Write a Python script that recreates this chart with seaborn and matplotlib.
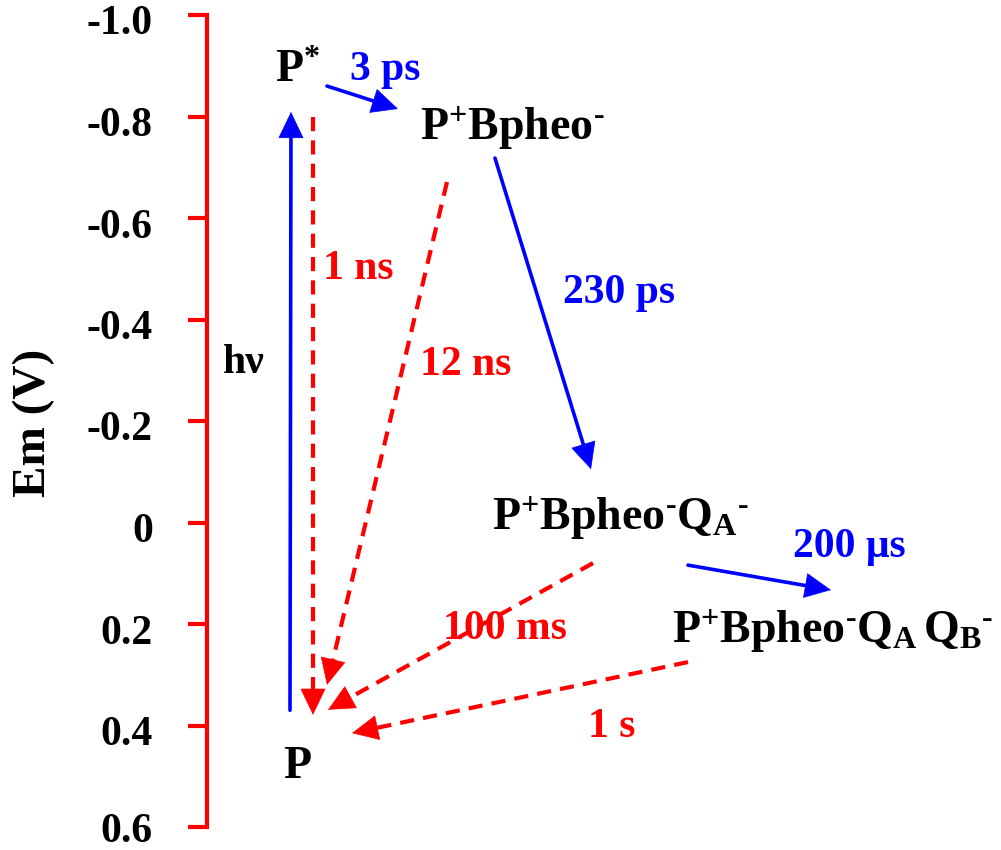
import numpy as np
import pandas as pd
import matplotlib
matplotlib.use("Agg")
import matplotlib.pyplot as plt
import matplotlib.transforms as mtransforms
import seaborn as sns

# ---------------- data ----------------
em_ticks = [-1.0, -0.8, -0.6, -0.4, -0.2, 0.0, 0.2, 0.4, 0.6]
em_tick_labels = ["-1.0", "-0.8", "-0.6", "-0.4", "-0.2", "0", "0.2", "0.4", "0.6"]

HY = "\u2010"
state_labels = [
    r"$\mathbf{P^{*}}$",
    r"$\mathbf{P^{+}Bpheo^{" + HY + r"}}$",
    r"$\mathbf{P^{+}Bpheo^{" + HY + r"}Q_{A}{}^{" + HY + r"}}$",
    r"$\mathbf{P^{+}Bpheo^{" + HY + r"}Q_{A}\,Q_{B}{}^{" + HY + r"}}$",
    r"$\mathbf{P}$",
]
state_x = [275, 420, 492, 672, 283]
state_em = [-0.868, -0.754, 0.015, 0.237, 0.503]

# transitions: start / end (x position, Em)
trans_x0 = [290, 327, 495, 688, 313, 447, 593, 688]
trans_em0 = [0.370, -0.860, -0.718, 0.084, -0.799, -0.671, 0.080, 0.275]
trans_x1 = [291, 398, 591, 831, 313, 327, 328, 352]
trans_em1 = [-0.809, -0.815, -0.105, 0.133, 0.379, 0.320, 0.369, 0.415]
trans_kind = ["forward", "forward", "forward", "forward",
              "back", "back", "back", "back"]

rate_labels = ["h\u03bd", "3 ps", "230 ps", "200 \u03bcs", "1 ns", "12 ns", "100 ms", "1 s"]
rate_x = [223, 350, 563, 793, 323, 420, 443, 588]
rate_em = [-0.2946, -0.8719, -0.4325, 0.0680, -0.4798, -0.2907, 0.2295, 0.4226]
rate_kind = ["photon", "forward", "forward", "forward", "back", "back", "back", "back"]

# ---------------- style ----------------
sns.set_style("white")
plt.rcParams["font.family"] = ["Liberation Serif", "DejaVu Serif"]
plt.rcParams["font.weight"] = "bold"
plt.rcParams["text.color"] = "black"
plt.rcParams["axes.labelcolor"] = "black"
plt.rcParams["ytick.color"] = "black"
plt.rcParams["mathtext.fontset"] = "custom"
plt.rcParams["mathtext.rm"] = "Liberation Serif:bold"
plt.rcParams["mathtext.bf"] = "Liberation Serif:bold"
plt.rcParams["mathtext.it"] = "Liberation Serif:italic:bold"

colors = {"forward": "#0000ff", "back": "#ff0000", "photon": "#000000"}
styles = {"forward": "-", "back": (0, (3.4, 2.2))}
widths = {"forward": 2.6, "back": 3.0}

W, H = 1001, 850
fig = plt.figure(figsize=(W / 100, H / 100), dpi=100)
ax = fig.add_axes([207 / W, 1 - 827 / H, 1 - 207 / W, (827 - 15) / H])
ax.set_xlim(207, W)
ax.set_ylim(0.6, -1.0)

# ---------------- arrows ----------------
head_len_px = 25.0
head_w_px = 24.0
to_pt = 72.0 / 100.0
fig.canvas.draw()
T = ax.transData
Ti = T.inverted()
for x0, e0, x1, e1, k in zip(trans_x0, trans_em0, trans_x1, trans_em1, trans_kind):
    p0 = T.transform((x0, e0))
    p1 = T.transform((x1, e1))
    d = p1 - p0
    u = d / np.hypot(*d)
    base = p1 - u * head_len_px
    shaft_end = p1 - u * head_len_px * 0.6
    bx, by = Ti.transform(base)
    sx, sy = Ti.transform(shaft_end)
    df = pd.DataFrame({"x": [x0, sx], "y": [e0, sy]})
    sns.lineplot(data=df, x="x", y="y", ax=ax, sort=False, color=colors[k],
                 linewidth=widths[k], linestyle=styles[k], estimator=None)
    ax.annotate("", xy=(x1, e1), xytext=(bx, by),
                arrowprops=dict(arrowstyle="-|>,head_length=%.2f,head_width=%.2f"
                                % (head_len_px * to_pt, head_w_px / 2 * to_pt),
                                mutation_scale=1, color=colors[k], lw=0.5,
                                shrinkA=0, shrinkB=0))

ax.set_xlim(207, W)
ax.set_ylim(0.6, -1.0)
for s in ["top", "right", "bottom"]:
    ax.spines[s].set_visible(False)
ax.spines["left"].set_color("#ff0000")
ax.spines["left"].set_linewidth(3)
ax.set_xticks([])
ax.set_xlabel("")
ax.set_yticks(em_ticks)
ax.set_yticklabels(em_tick_labels, fontsize=30, fontweight="bold", color="black")
ax.tick_params(axis="y", which="major", left=True, direction="out", length=14,
               width=3, color="#ff0000", pad=25, labelcolor="black")
shift = mtransforms.ScaledTranslation(0, -5 / 100, fig.dpi_scale_trans)
for lbl in ax.get_yticklabels()[:-1]:
    lbl.set_transform(lbl.get_transform() + shift)
ax.set_ylabel("Em (V)", fontsize=34, fontweight="bold", color="black")
ax.yaxis.label.set_va("center")
ax.yaxis.set_label_coords((34 - 207) / (W - 207), 1 - (423 - 15) / 812)
ax.grid(False)

# ---------------- labels ----------------
for lab, x, e in zip(state_labels, state_x, state_em):
    ax.text(x, e, lab, ha="left", va="baseline", fontsize=33, color="black", clip_on=False)

for lab, x, e, k in zip(rate_labels, rate_x, rate_em, rate_kind):
    ax.text(x, e, lab, ha="left", va="baseline", fontsize=30, fontweight="bold",
            color=colors[k], clip_on=False)

fig.savefig("out.png", dpi=100)
